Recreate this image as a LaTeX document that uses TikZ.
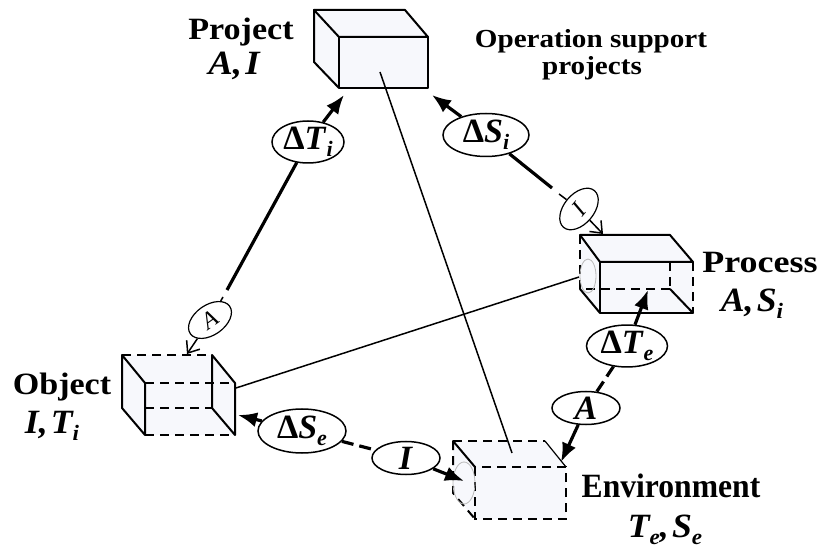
\documentclass[tikz,border=0pt]{standalone}
\usepackage{fontspec}
\usepackage{graphicx}
\setmainfont{Liberation Serif}
\usetikzlibrary{shapes.geometric,arrows.meta}

% lowered subscript used in the labels
\newcommand\lowsub[1]{\raisebox{-7pt}{\fontsize{22}{22}\selectfont\textit{#1}}}
\newcommand\stretchx[2]{\scalebox{#1}[1]{#2}}

\begin{document}
\begin{tikzpicture}[x=1pt,y=-1pt,
  edge/.style={line width=2pt, line join=round, line cap=round},
  hid/.style={line width=2pt, dash pattern=on 9pt off 6pt},
  boxfill/.style={fill={rgb,255:red,247;green,248;blue,252}},
  tag/.style={ellipse, draw, line width=1.5pt, fill=white, inner sep=0pt,
    font=\fontsize{34}{34}\selectfont\bfseries},
  mini/.style={ellipse, draw, line width=1.2pt, fill=white, inner sep=0pt,
    minimum width=48pt, minimum height=30pt, font=\fontsize{24}{24}\selectfont\itshape},
  heavy/.style={line width=3.2pt},
  fine/.style={line width=1.5pt},
  dashheavy/.style={line width=3.2pt, dash pattern=on 12pt off 6pt},
  solidtip/.style={-{Latex[length=19pt,width=15pt]}},
  opentip/.style={-{Straight Barb[length=10pt,width=16pt,line width=1.5pt]}},
  boxname/.style={anchor=base, font=\fontsize{31}{32}\selectfont\bfseries},
  note/.style={anchor=base, font=\fontsize{26}{26}\selectfont\bfseries},
  attr/.style={anchor=base, font=\fontsize{34}{34}\selectfont\bfseries\itshape},
  face/.style={draw=gray!55, line width=0.8pt}
]
\useasboundingbox (0,0) rectangle (823,548);

% ---------- Project box ----------
\fill[boxfill] (314,10) -- (405,10) -- (428,37) -- (428,88) -- (339,88) -- (314,62) -- cycle;
\draw[edge] (314,10) -- (405,10) -- (428,37) -- (339,37) -- cycle;
\draw[edge] (339,37) rectangle (428,88);
\draw[edge] (314,10) -- (314,62) -- (339,88);

% ---------- Process box ----------
\fill[boxfill] (580,235) -- (670,235) -- (693,262) -- (693,313) -- (600,313) -- (580,289) -- cycle;
\draw[edge] (580,235) -- (670,235) -- (693,262) -- (600,262) -- cycle;
\draw[edge] (600,262) -- (600,313) -- (693,313);
\draw[edge] (580,289) -- (600,313);
\draw[edge] (670,289) -- (693,313);
\draw[hid] (580,235) -- (580,289) -- (670,289);
\draw[hid] (670,262) -- (670,289);
\draw[hid] (693,262) -- (693,313);
\draw[face] (588,276) ellipse [x radius=8, y radius=17];

% ---------- Object box ----------
\fill[boxfill] (122,355) -- (212,355) -- (235,383) -- (235,435) -- (145,435) -- (122,408) -- cycle;
\draw[edge] (122,355) -- (122,408) -- (145,435) -- (145,383) -- cycle;
\draw[edge] (212,355) -- (212,408) -- (235,435) -- (235,383) -- cycle;
\draw[hid] (122,355) -- (212,355);
\draw[hid] (145,383) -- (235,383);
\draw[hid] (145,408) -- (212,408);
\draw[hid] (145,435) -- (235,435);

% ---------- Environment box ----------
\fill[boxfill] (453,441) -- (545,441) -- (566,467) -- (566,519) -- (475,519) -- (453,493) -- cycle;
\draw[edge] (453,441) -- (475,467);
\draw[line width=1.2pt] (545,441) -- (566,467);
\draw[hid] (453,441) -- (545,441);
\draw[hid] (475,467) rectangle (566,519);
\draw[hid] (453,441) -- (453,493) -- (475,519);
\draw[face] (464,483) ellipse [x radius=11, y radius=21];

% ---------- box labels ----------
\node[boxname] (tProject) at (241,40) {\stretchx{1.1}{Project}};
\node[attr] (aProject) at (234,75) {\stretchx{1.08}{A,\hspace{3pt}I}};
\node[note] (tOps1) at (591,48) {\stretchx{1.12}{Operation support}};
\node[note] (tOps2) at (592,75) {\stretchx{1.12}{projects}};
\node[boxname] (tProcess) at (760,273) {\stretchx{1.16}{Process}};
\node[attr] (aProcess) at (752,312) {\stretchx{1.05}{A,\hspace{3pt}S\lowsub{i}}};
\node[boxname] (tObject) at (62,395) {\stretchx{1.1}{Object}};
\node[attr] (aObject) at (52,433) {\stretchx{1.05}{I,\hspace{3pt}T\lowsub{i}}};
\node[boxname, font=\fontsize{34}{34}\selectfont\bfseries] (tEnv) at (671,497) {\stretchx{0.93}{Environment}};
\node[attr] (aEnv) at (665,537) {\stretchx{1.05}{T\lowsub{e},\hspace{3pt}S\lowsub{e}}};

% ---------- flow tags ----------
\node[tag, minimum width=72pt, minimum height=42pt] (dTi) at (308,142) {Δ\textit{T}\lowsub{i}};
\node[tag, minimum width=86pt, minimum height=43pt] (dSi) at (486,135) {Δ\textit{S}\lowsub{i}};
\node[tag, minimum width=81pt, minimum height=37pt] (dTe) at (627,346) {Δ\textit{T}\lowsub{e}};
\node[tag, minimum width=68pt, minimum height=33pt] (aE) at (586,408) {\textit{A}};
\node[tag, minimum width=88pt, minimum height=44pt] (dSe) at (302,431) {Δ\textit{S}\lowsub{e}};
\node[tag, minimum width=68pt, minimum height=33pt] (iE) at (406,458) {\textit{I}};
\node[mini, rotate=35] (aL) at (210,320) {A};
\node[mini, rotate=50] (iP) at (579,209) {I};

% ---------- attachment points ----------
\coordinate (pjL) at (344,95);
\coordinate (pjR) at (432,95);
\coordinate (g1) at (227,290);
\coordinate (g2) at (223,297);
\coordinate (objTop) at (187,354);
\coordinate (g3) at (552,188);
\coordinate (g4) at (559,194);
\coordinate (prTop) at (603,234);
\coordinate (prB) at (648,290);
\coordinate (envT) at (561,462);
\coordinate (objR) at (238,415);
\coordinate (envL) at (464,481);
\coordinate (prFace) at (579,277);
\coordinate (objFace) at (236,388);
\coordinate (pjFace) at (380,72);
\coordinate (envTop) at (512,453);

% ---------- connectors ----------
\draw[fine] (pjFace) -- (envTop);
\draw[fine] (prFace) -- (objFace);

\draw[heavy, solidtip] (dTi) -- (pjL);
\draw[heavy] (dTi) -- (g1);
\draw[fine] (g2) -- (aL);
\draw[fine, opentip] (aL) -- (objTop);

\draw[heavy, solidtip] (dSi) -- (pjR);
\draw[heavy] (dSi) -- (g3);
\draw[fine] (g4) -- (iP);
\draw[fine, opentip] (iP) -- (prTop);

\draw[heavy, solidtip] (dTe) -- (prB);
\draw[dashheavy] (dTe) -- (aE);
\draw[heavy, solidtip] (aE) -- (envT);

\draw[heavy, solidtip] (dSe) -- (objR);
\draw[dashheavy] (dSe) -- (iE);
\draw[heavy, solidtip] (iE) -- (envL);
\end{tikzpicture}
\end{document}
